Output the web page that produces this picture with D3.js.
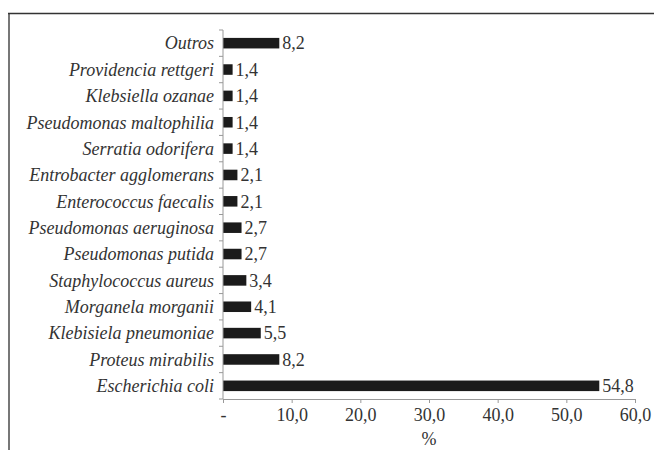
<!DOCTYPE html>
<html><head><meta charset="utf-8">
<script src="https://cdn.jsdelivr.net/npm/d3@7"></script>
<style>body{margin:0;background:#fff}svg{display:block}</style>
</head><body>
<svg id="c" width="654" height="450"></svg>
<script>
const categories = ["Outros","Providencia rettgeri","Klebsiella ozanae","Pseudomonas maltophilia","Serratia odorifera","Entrobacter agglomerans","Enterococcus faecalis","Pseudomonas aeruginosa","Pseudomonas putida","Staphylococcus aureus","Morganela morganii","Klebisiela pneumoniae","Proteus mirabilis","Escherichia coli"];
const values = [8.2,1.4,1.4,1.4,1.4,2.1,2.1,2.7,2.7,3.4,4.1,5.5,8.2,54.8];
const xTicks = [0,10,20,30,40,50,60];
const xTickLabels = ["-","10,0","20,0","30,0","40,0","50,0","60,0"];
const xTitle = "%";

const svg = d3.select("#c");
const fmt = v => v.toFixed(1).replace(".", ",");
const font = "Liberation Serif, Times New Roman, serif";
const fs = 18;

// frame
svg.append("line").attr("x1",9).attr("x2",9).attr("y1",13).attr("y2",450).attr("stroke","#777").attr("stroke-width",2);
svg.append("line").attr("x1",8).attr("x2",654).attr("y1",13.5).attr("y2",13.5).attr("stroke","#333").attr("stroke-width",1.5);

const x = d3.scaleLinear().domain([0,60]).range([223,635]);
const y = d3.scaleBand().domain(categories).range([30,399]).paddingInner(0.6).paddingOuter(0.3);

// bars
svg.append("g").selectAll("rect").data(categories).join("rect")
  .attr("x", x(0)).attr("y", d => y(d))
  .attr("width", (d,i) => x(values[i]) - x(0))
  .attr("height", y.bandwidth())
  .attr("fill", "#1b1b1b");

// value labels
svg.append("g").selectAll("text").data(categories).join("text")
  .attr("x", (d,i) => x(values[i]) + 3)
  .attr("y", d => y(d) + y.bandwidth()/2)
  .attr("dy","0.35em")
  .attr("font-family", font).attr("font-size", fs).attr("fill","#333")
  .text((d,i) => fmt(values[i]));

// x axis
const xa = svg.append("g").attr("transform","translate(0,399)")
  .call(d3.axisBottom(x).tickValues(xTicks).tickSize(4).tickPadding(5).tickFormat((d,i)=>xTickLabels[i]));
xa.select(".domain").attr("stroke","#999");
xa.selectAll(".tick line").attr("stroke","#999");
xa.selectAll("text").attr("font-family",font).attr("font-size",fs).attr("fill","#333");

// y axis
const ya = svg.append("g").attr("transform","translate(223,0)");
ya.append("line").attr("x1",0).attr("x2",0).attr("y1",30).attr("y2",399).attr("stroke","#999");
const bounds = d3.range(categories.length + 1).map(i => 30 + i * (369/categories.length));
ya.selectAll("line.t").data(bounds).join("line").attr("class","t")
  .attr("x1",-4).attr("x2",0).attr("y1",d=>d).attr("y2",d=>d).attr("stroke","#999");
ya.selectAll("text").data(categories).join("text")
  .attr("x",-9).attr("y", d => y(d) + y.bandwidth()/2).attr("dy","0.35em")
  .attr("text-anchor","end").attr("font-family",font).attr("font-style","italic")
  .attr("font-size",fs).attr("fill","#333").text(d=>d);

svg.append("text").attr("x",(x(0)+x(60))/2).attr("y",445).attr("text-anchor","middle")
  .attr("font-family",font).attr("font-size",fs).attr("fill","#333").text(xTitle);
</script>
</body></html>
